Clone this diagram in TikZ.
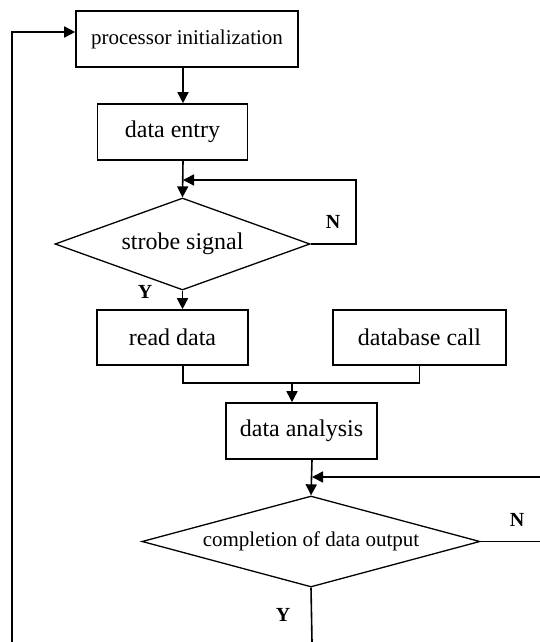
\documentclass[tikz,border=0pt]{standalone}
\usepackage{fontspec}
\setmainfont{Liberation Serif}
\usetikzlibrary{shapes.geometric,arrows.meta}
\begin{document}
\begin{tikzpicture}[x=1pt,y=-1pt,
  line width=1.6pt,
  box/.style={draw,rectangle,inner sep=0pt,font=\fontsize{24}{26}\selectfont},
  decision/.style={draw,diamond,inner sep=0pt,line width=1.3pt,font=\fontsize{24}{26}\selectfont},
  arr/.style={-{Triangle[length=11pt,width=11pt]}},
  yn/.style={font=\fontsize{20}{22}\selectfont\bfseries}]
\useasboundingbox (0,0) rectangle (540,642);

% process steps
\node[box,minimum width=222pt,minimum height=56pt,font=\fontsize{21}{23}\selectfont] (init) at (187,39) {processor initialization};
\node[box,minimum width=150pt,minimum height=56pt] (entry) at (172.5,132) {data entry};
\node[decision,aspect=2.77,minimum width=255pt,minimum height=92pt] (strobe) at (182.5,244) {strobe signal};
\node[box,minimum width=151pt,minimum height=55pt] (read) at (172.5,337.5) {read data};
\node[box,minimum width=173pt,minimum height=55pt] (db) at (419.5,337.5) {database call};
\node[box,minimum width=151pt,minimum height=56pt] (analysis) at (301.5,431) {data analysis};
\node[decision,aspect=3.71,minimum width=338pt,minimum height=91pt,font=\fontsize{21}{23}\selectfont] (done) at (311,541.5) {completion of data output};

% helper coordinates for the connector routes
\coordinate (c1) at (183,0);
\coordinate (c2) at (312,0);
\coordinate (j1) at (183,180);
\coordinate (nr) at (356,0);
\coordinate (j2) at (292,383);
\coordinate (rt) at (540,477);
\coordinate (re) at (540,0);
\coordinate (bot) at (312,642);
\coordinate (bl) at (12,642);
\coordinate (ret) at (0,32);

% connectors
\draw[arr] (init.south -| c1) -- (entry.north -| c1);
\draw[arr] (entry.south -| c1) -- (strobe.north);
\draw[arr] (strobe.east) -| (nr |- j1) -- (j1);
\draw[arr] (strobe.south) -- (read.north -| strobe.south);
\draw (read.south -| c1) |- (db.south |- j2) -- (db.south);
\draw[arr] (j2) -- (analysis.north -| j2);
\draw[arr] (analysis.south -| c2) -- (done.north);
\draw[arr] (rt) -- (c2 |- rt);
\draw (done.east) -- (re |- done.east);
\draw (done.south) -- (bot);
\draw[arr] (bl) |- (init.west |- ret);

% branch labels
\node[yn] (n1) at (333,222) {N};
\node[yn] (y1) at (145,292) {Y};
\node[yn] (n2) at (517,520) {N};
\node[yn] (y2) at (283,615) {Y};
\end{tikzpicture}
\end{document}
